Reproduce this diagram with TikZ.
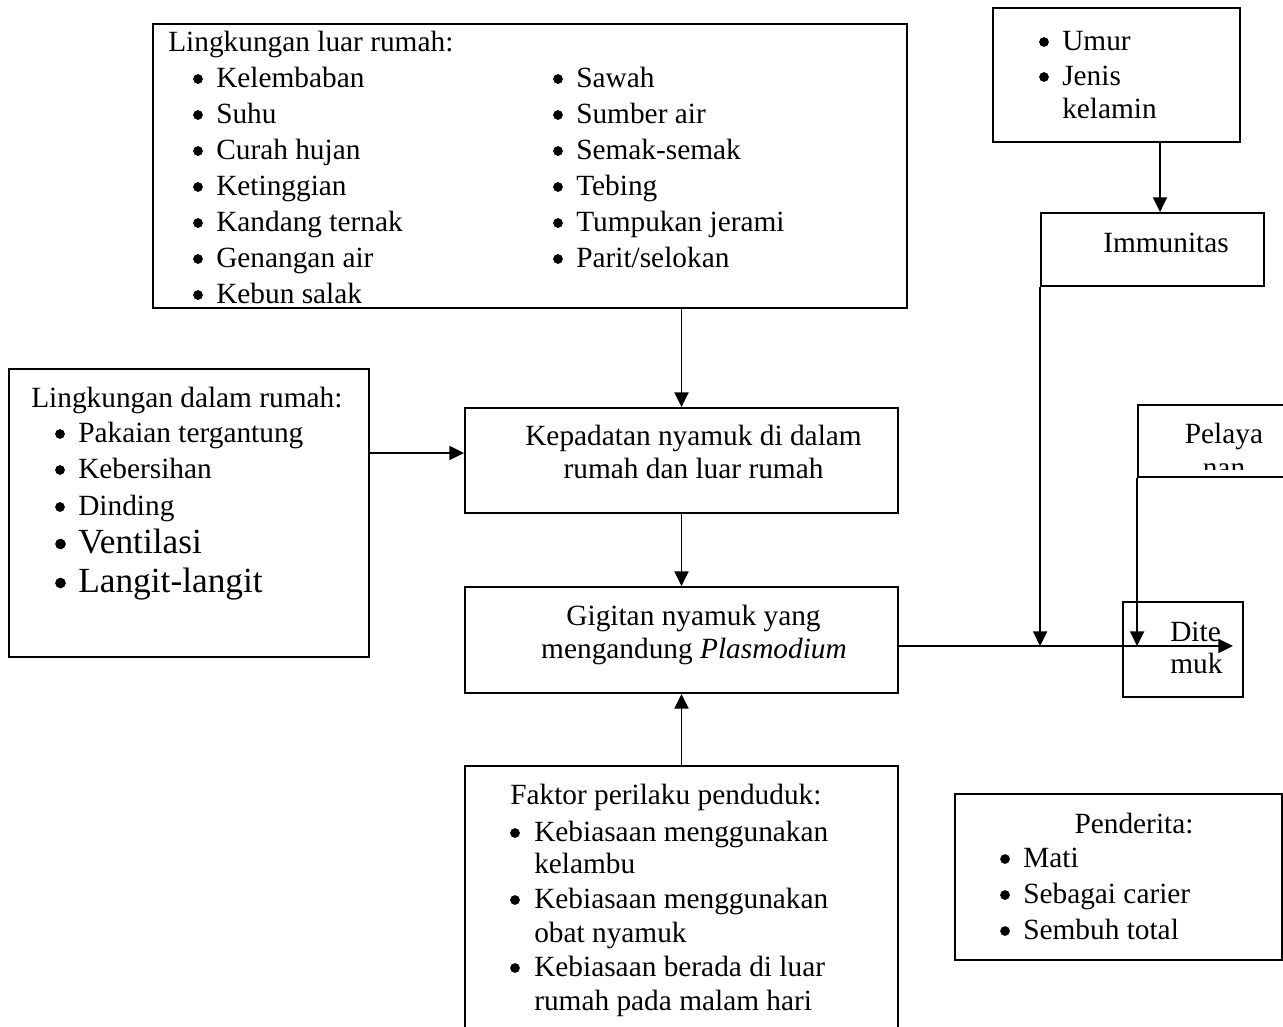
\documentclass[tikz,border=0pt]{standalone}
\usepackage{fontspec}
\setmainfont{Liberation Serif}
\usetikzlibrary{fit,arrows.meta}
\begin{document}
\begin{tikzpicture}[x=0.75pt,y=-0.75pt,
  box/.style={draw, line width=1.4pt, inner sep=0pt},
  txt/.style={inner sep=0pt, anchor=base west, font=\fontsize{22}{26}\selectfont},
  ctxt/.style={txt, anchor=base},
  bigtxt/.style={txt, font=\fontsize{26.5}{31}\selectfont},
  bul/.style={circle, fill, draw=none, inner sep=0pt, minimum size=7.3pt},
  bigbul/.style={bul, minimum size=8pt},
  arr/.style={line width=1.4pt, -{Triangle[length=11pt,width=10.5pt]}}]
\useasboundingbox (0,0) rectangle (1283,1026);
% boxes
\node[box, fit={(153,24) (907,308)}] (luar) {};
\node[box, fit={(9,369) (369,657)}] (dalam) {};
\node[box, fit={(465,408) (898,513)}] (kep) {};
\node[box, fit={(465,587) (898,693)}] (gig) {};
\node[box, fit={(465,766) (898,1040)}] (fak) {};
\node[box, fit={(993,8) (1240,142)}] (umur) {};
\node[box, fit={(1041,213) (1264,286)}] (immun) {};
\node[box, fit={(1138,405) (1300,477)}] (pelay) {};
\node[box, fit={(1123,602) (1243,697)}] (ditem) {};
\node[box, fit={(955,794) (1282,960)}] (pend) {};
% Lingkungan luar rumah
\node[txt] (luarH) at (168,51) {Lingkungan luar rumah:};
\foreach \t [count=\i] in {Kelembaban, Suhu, Curah hujan, Ketinggian, Kandang ternak, Genangan air, Kebun salak}{
  \node[bul] (lbA\i) at (198,{51+36*\i-8}) {};
  \node[txt] (ltA\i) at (216,{51+36*\i}) {\t};
}
\foreach \t [count=\i] in {Sawah, Sumber air, Semak-semak, Tebing, Tumpukan jerami, Parit/selokan}{
  \node[bul] (lbB\i) at (558,{51+36*\i-8}) {};
  \node[txt] (ltB\i) at (576,{51+36*\i}) {\t};
}
% Lingkungan dalam rumah
\node[txt] (dalH) at (31,407) {Lingkungan dalam rumah:};
\node[bul] (db1) at (60,434) {}; \node[txt] (dt1) at (78,442) {Pakaian tergantung};
\node[bul] (db2) at (60,470) {}; \node[txt] (dt2) at (78,478) {Kebersihan};
\node[bul] (db3) at (60,507) {}; \node[txt] (dt3) at (78,515) {Dinding};
\node[bigbul] (db4) at (60.5,544) {}; \node[bigtxt] (dt4) at (78,553) {Ventilasi};
\node[bigbul] (db5) at (60.5,583) {}; \node[bigtxt] (dt5) at (78,592) {Langit-langit};
% Kepadatan
\node[ctxt] (kt1) at (693.5,445) {Kepadatan nyamuk di dalam};
\node[ctxt] (kt2) at (693.5,478) {rumah dan luar rumah};
% Gigitan
\node[ctxt] (gt1) at (693.5,625) {Gigitan nyamuk yang};
\node[ctxt] (gt2) at (694,658) {mengandung \textit{Plasmodium}};
% Faktor perilaku
\node[txt] (fH) at (510,804) {Faktor perilaku penduduk:};
\node[bul] (fb1) at (515,833) {}; \node[txt] (ft1) at (534,841) {Kebiasaan menggunakan};
\node[txt] (ft1b) at (534,873) {kelambu};
\node[bul] (fb2) at (515,900) {}; \node[txt] (ft2) at (534,908) {Kebiasaan menggunakan};
\node[txt] (ft2b) at (534,942) {obat nyamuk};
\node[bul] (fb3) at (515,968) {}; \node[txt] (ft3) at (534,976) {Kebiasaan berada di luar};
\node[txt] (ft3b) at (534,1010) {rumah pada malam hari};
% Umur
\node[bul] (ub1) at (1044,42) {}; \node[txt] (ut1) at (1062,50) {Umur};
\node[bul] (ub2) at (1044,77) {}; \node[txt] (ut2) at (1062,85) {Jenis};
\node[txt] (ut3) at (1062,118) {kelamin};
% Immunitas
\node[txt] (it) at (1103,252) {Immunitas};
% Pelayanan (clipped text)
\begin{scope}
  \clip (1138,405) rectangle (1290,469);
  \node[ctxt] (pt1) at (1224,443) {Pelaya};
  \node[ctxt] (pt2) at (1224,477) {nan};
\end{scope}
% Ditemuk
\node[txt] (dtt1) at (1170,641) {Dite};
\node[txt] (dtt2) at (1170,673) {muk};
% Penderita
\node[ctxt] (pH) at (1134,833) {Penderita:};
\node[bul] (pb1) at (1005,859) {}; \node[txt] (pt1b) at (1023,867) {Mati};
\node[bul] (pb2) at (1005,895) {}; \node[txt] (pt2b) at (1023,903) {Sebagai carier};
\node[bul] (pb3) at (1005,931) {}; \node[txt] (pt3b) at (1023,939) {Sembuh total};
% connectors
\coordinate (mainEnd) at (1233,646);
\draw[arr] (luar.south -| kep.north) -- (kep.north);
\draw[arr] (kep.south) -- (gig.north);
\draw[arr] (fak.north) -- (gig.south);
\draw[arr] (dalam.east |- {(0,453)}) -- (kep.west |- {(0,453)});
\draw[arr] (umur.south -| {(1160,0)}) -- (immun.north -| {(1160,0)});
\draw[arr] (gig.east |- mainEnd) -- (mainEnd);
\draw[arr] (immun.south west) -- (immun.south west |- mainEnd);
\draw[arr] (pelay.south west) -- (pelay.south west |- mainEnd);
\end{tikzpicture}
\end{document}
